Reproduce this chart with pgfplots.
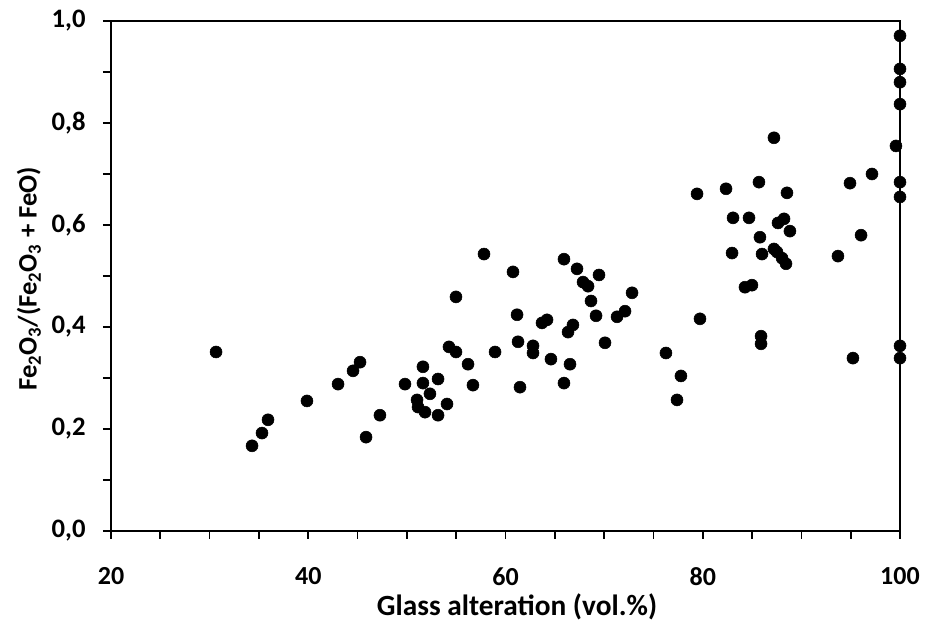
\documentclass[border=0pt]{standalone}
\usepackage{fontspec}
\setmainfont{Carlito}
\usepackage{pgfplots}
\pgfplotsset{compat=1.18}

\begin{document}
\begin{tikzpicture}
% fixed page frame around the plot area
\path[use as bounding box] (-83.25pt,-77.25pt) rectangle (610.5pt,398.25pt);
\begin{axis}[
  at={(0,0)}, anchor=south west,
  scale only axis,
  width=591.75pt, height=382.5pt,
  xmin=20, xmax=100, ymin=0, ymax=1,
  xtick={20,40,60,80,100},
  minor xtick={25,30,35,45,50,55,65,70,75,85,90,95},
  ytick={0,0.2,0.4,0.6,0.8,1.0},
  minor ytick={0.1,0.3,0.5,0.7,0.9},
  xtick pos=bottom, ytick pos=left,
  tick align=outside,
  major tick length=6pt, minor tick length=6pt,
  every tick/.style={black, line width=1.3pt},
  axis line style={black, line width=1.5pt},
  /pgf/number format/assume math mode=true,
  xticklabel style={/pgf/number format/fixed, font=\fontsize{19.5}{19.5}\selectfont\bfseries,
    anchor=center, yshift=-28pt},
  yticklabel style={/pgf/number format/.cd, fixed, fixed zerofill, precision=1, use comma,
    /tikz/.cd, font=\fontsize{20}{20}\selectfont\bfseries, anchor=east, xshift=-9.5pt},
  xlabel={Glass alteration (vol.\%)},
  ylabel={Fe\textsubscript{2}O\textsubscript{3}/(Fe\textsubscript{2}O\textsubscript{3} + FeO)},
  xlabel style={font=\fontsize{22}{22}\selectfont\bfseries,
    at={(axis description cs:0.5146,-0.149)}, anchor=center},
  ylabel style={font=\fontsize{20}{20}\selectfont\bfseries,
    at={(axis description cs:-0.104,0.494)}, anchor=center},
  clip=false,
]
% Fe2O3/(Fe2O3 + FeO) against glass alteration
\addplot[only marks, mark=*, mark size=4.5pt, black, mark options={fill=black}]
  coordinates {
  (30.65,0.351) (34.30,0.167) (35.31,0.192) (35.92,0.218) (39.87,0.255)
  (43.02,0.288) (44.54,0.314) (45.25,0.331) (45.86,0.184) (47.27,0.227)
  (49.81,0.288) (51.03,0.257) (51.13,0.243) (51.63,0.322) (51.63,0.290)
  (51.84,0.233) (52.34,0.269) (53.16,0.298) (53.16,0.227) (54.07,0.249)
  (54.27,0.361) (54.98,0.351) (54.98,0.459) (56.20,0.327) (56.70,0.286)
  (57.82,0.543) (58.94,0.351) (60.76,0.508) (61.17,0.424) (61.27,0.371)
  (61.47,0.282) (62.79,0.363) (62.79,0.349) (63.70,0.408) (64.21,0.414)
  (64.61,0.337) (65.93,0.533) (65.93,0.290) (66.34,0.390) (66.54,0.327)
  (66.84,0.404) (67.25,0.514) (67.86,0.488) (68.37,0.480) (68.67,0.451)
  (69.18,0.422) (69.48,0.502) (70.09,0.369) (71.31,0.420) (72.12,0.431)
  (72.83,0.467) (76.27,0.349) (77.79,0.304) (77.39,0.257) (79.42,0.661)
  (79.72,0.416) (82.36,0.671) (83.07,0.614) (82.97,0.545) (84.28,0.478)
  (84.99,0.482) (84.69,0.614) (85.70,0.684) (85.80,0.576) (86.01,0.543)
  (85.91,0.382) (85.91,0.367) (87.22,0.771) (87.22,0.553) (87.53,0.547)
  (87.63,0.604) (88.04,0.535) (88.24,0.612) (88.44,0.524) (88.54,0.663)
  (88.84,0.588) (93.71,0.539) (94.93,0.682) (95.23,0.339) (96.05,0.580)
  (97.16,0.700) (99.59,0.755) (100,0.971) (100,0.906) (100,0.880)
  (100,0.837) (100,0.684) (100,0.655) (100,0.363) (100,0.339)
  };
\end{axis}
\end{tikzpicture}
\end{document}
